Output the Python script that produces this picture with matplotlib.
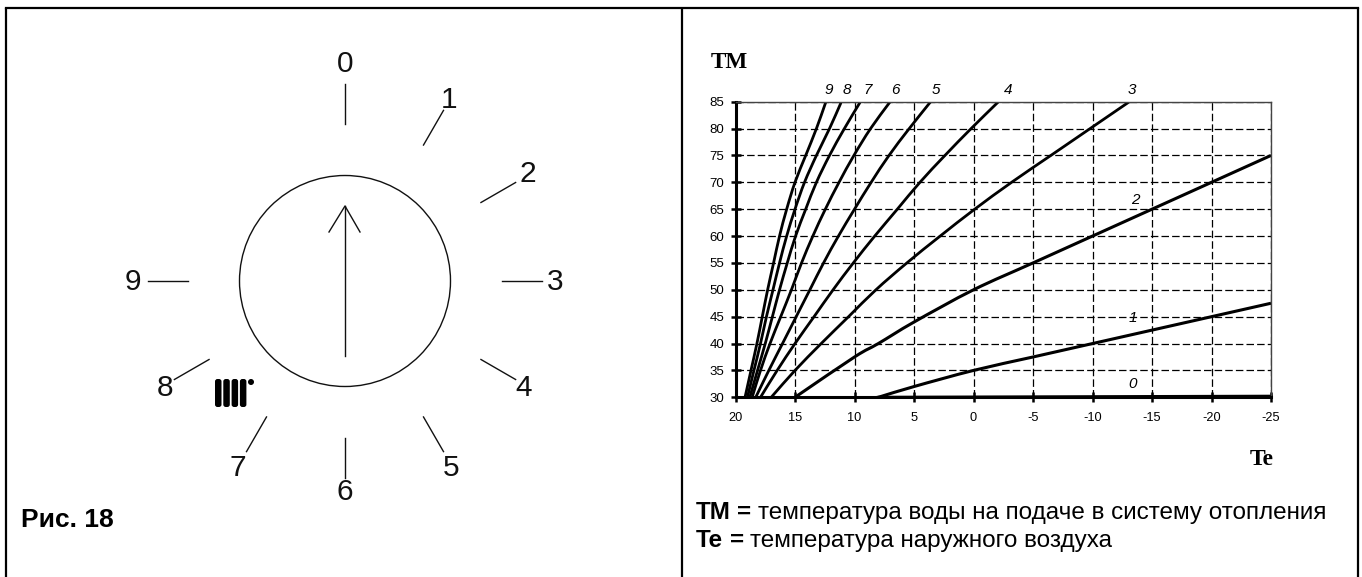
import numpy as np
import matplotlib
matplotlib.use("Agg")
import matplotlib.pyplot as plt
from matplotlib.patches import Circle, FancyBboxPatch, PathPatch
from matplotlib.path import Path

plt.rcParams['font.family'] = ['Liberation Sans', 'DejaVu Sans']
plt.rcParams['axes.unicode_minus'] = False

# diagram data
tm_levels = [30, 35, 40, 45, 50, 55, 60, 65, 70, 75, 80, 85]
te_9 = [19.2, 18.7, 18.2, 17.75, 17.3, 16.8, 16.3, 15.7, 15.0, 14.1, 13.2, 12.4]
te_8 = [19.0, 18.45, 17.9, 17.4, 16.85, 16.3, 15.7, 15.0, 14.2, 13.2, 12.1, 11.1]
te_7 = [18.8, 18.15, 17.5, 16.9, 16.3, 15.65, 14.95, 14.1, 13.2, 12.1, 10.85, 9.5]
te_6 = [18.6, 17.9, 17.1, 16.2, 15.3, 14.45, 13.5, 12.45, 11.3, 10.05, 8.65, 7.0]
te_5 = [18.3, 17.2, 16.05, 14.9, 13.75, 12.6, 11.35, 10.0, 8.6, 7.1, 5.4, 3.6]
te_4 = [17.9, 16.5, 15.0, 13.4, 11.8, 10.1, 8.3, 6.4, 4.5, 2.4, 0.2, -2.1]
te_3 = [17.0, 15.0, 12.8, 10.5, 8.2, 5.6, 2.8, -0.1, -3.2, -6.5, -9.8, -13.1]
te_2 = [15, 10, 8, 5, 0, -5, -10, -15, -20, -25]
tm_2 = [30, 37.5, 40, 44, 50, 55, 60, 65, 70, 75]
te_1 = [8, 5, 0, -5, -10, -15, -20, -25]
tm_1 = [30, 32, 35, 37.5, 40, 42.5, 45, 47.5]
te_0 = [8, -25]
tm_0 = [30, 30.2]

x_ticks = [20, 15, 10, 5, 0, -5, -10, -15, -20, -25]
y_ticks = [30, 35, 40, 45, 50, 55, 60, 65, 70, 75, 80, 85]

curve_labels = ['9', '8', '7', '6', '5', '4', '3', '2', '1', '0']
label_te = [12.2, 10.65, 8.9, 6.6, 3.2, -2.95, -13.3, -13.6, -13.4, -13.4]
label_tm = [87.2, 87.2, 87.2, 87.2, 87.2, 87.2, 87.2, 66.7, 44.8, 32.5]

# dial data
dial_numbers = ['0', '1', '2', '3', '4', '5', '6', '7', '8', '9']
dial_angles = [0, 30, 60, 90, 120, 150, 180, 210, 240, 270]
num_x = [345, 449, 528, 555, 524, 451, 345, 238, 165, 133]
num_y = [63, 98, 172, 281, 387, 466, 491, 466, 387, 281]


def smooth_line(ax, xs, ys, lw):
    # Bezier segments through the read points (Catmull-Rom tangents)
    p = np.column_stack([xs, ys]).astype(float)
    t = np.gradient(p, axis=0)
    verts = [p[0]]
    codes = [Path.MOVETO]
    for i in range(len(p) - 1):
        verts += [p[i] + t[i] / 3, p[i + 1] - t[i + 1] / 3, p[i + 1]]
        codes += [Path.CURVE4] * 3
    ax.add_patch(PathPatch(Path(verts, codes), fc="none", ec="k", lw=lw))


W, H = 1362, 577
fig = plt.figure(figsize=(W / 100, H / 100), dpi=100)

# background in pixel coords
bg = fig.add_axes([0, 0, 1, 1])
bg.set_xlim(0, W)
bg.set_ylim(H, 0)
bg.axis("off")

# frame
bg.plot([6, 6], [H, 7.5], color="k", lw=1.6, solid_capstyle="butt")
bg.plot([6, 1358], [7.5, 7.5], color="k", lw=1.6, solid_capstyle="projecting")
bg.plot([1358, 1358], [7.5, H], color="k", lw=1.6, solid_capstyle="butt")
bg.plot([682, 682], [7.5, H], color="k", lw=1.6, solid_capstyle="butt")

# dial
cx, cy = 345, 281
bg.add_patch(Circle((cx, cy), 105.5, fill=False, ec="#111111", lw=1))
for a, s, tx, ty in zip(dial_angles, dial_numbers, num_x, num_y):
    r = np.deg2rad(a)
    bg.plot([cx + 157 * np.sin(r), cx + 197 * np.sin(r)],
            [cy - 157 * np.cos(r), cy - 197 * np.cos(r)], color="#111111", lw=1)
    bg.text(tx, ty + 1.5, s, fontsize=21.5, ha="center", va="center", color="#111111")

# arrow
bg.plot([cx, cx], [356, 206], color="#111111", lw=1)
bg.plot([329, cx, 360], [232, 206, 232], color="#111111", lw=1)

# radiator symbol
for i in range(4):
    bg.add_patch(FancyBboxPatch((215 + i * 8.3 + 2.5, 381.5), 1.5, 23,
                                boxstyle="round,pad=2.5", fc="k", ec="none"))
bg.add_patch(Circle((251, 382), 3, fc="k", ec="none"))

# texts
bg.text(21, 527, "Рис. 18", fontsize=19, fontweight="bold", va="baseline", color="k")
bg.text(696, 519, "ТМ", fontsize=17.5, fontweight="bold", va="baseline", color="k")
bg.text(737, 519, "=", fontsize=17.5, fontweight="bold", va="baseline", color="k")
bg.text(758, 519, "температура воды на подаче в систему отопления", fontsize=17.5,
        va="baseline", color="k")
bg.text(696, 547, "Те", fontsize=17.5, fontweight="bold", va="baseline", color="k")
bg.text(730, 547, "=", fontsize=17.5, fontweight="bold", va="baseline", color="k")
bg.text(750, 547, "температура наружного воздуха", fontsize=17.5, va="baseline", color="k")
bg.text(711, 68, "TM", family="Liberation Serif", fontsize=16.7, fontweight="bold", va="baseline")
bg.text(1250, 465, "Te", family="Liberation Serif", fontsize=17, fontweight="bold", va="baseline")

# diagram
x0, x1, y0, y1 = 735.5, 1271, 397.3, 101.7
ax = fig.add_axes([x0 / W, (H - y0) / H, (x1 - x0) / W, (y0 - y1) / H])
ax.patch.set_alpha(0)
ax.set_xlim(20, -25)
ax.set_ylim(30, 85)
ax.set_xticks(x_ticks)
ax.set_yticks(y_ticks)
ax.grid(True, color="k", lw=0.9, linestyle=(0, (6, 2.5)))
ax.set_axisbelow(True)
ax.tick_params(direction="inout", length=7, width=1.8, color="k")
ax.tick_params(axis="y", labelsize=9.5, pad=4.5)
ax.tick_params(axis="x", labelsize=9.2, pad=7)

for te in [te_9, te_8, te_7, te_6, te_5, te_4, te_3]:
    smooth_line(ax, te, tm_levels, 2)
smooth_line(ax, te_2, tm_2, 2.2)
smooth_line(ax, te_1, tm_1, 2.2)
ax.plot(te_0, tm_0, color="k", lw=2.2, clip_on=False)

ax.spines["left"].set_linewidth(2.2)
ax.spines["bottom"].set_linewidth(2.2)
ax.spines["top"].set_linewidth(1)
ax.spines["top"].set_color("#444444")
ax.spines["right"].set_linewidth(1)
ax.spines["right"].set_color("#444444")

for s, te, tm in zip(curve_labels, label_te, label_tm):
    ax.text(te, tm, s, fontsize=11, style="italic", ha="center", va="center", clip_on=False)

fig.savefig("out.png", dpi=100)
